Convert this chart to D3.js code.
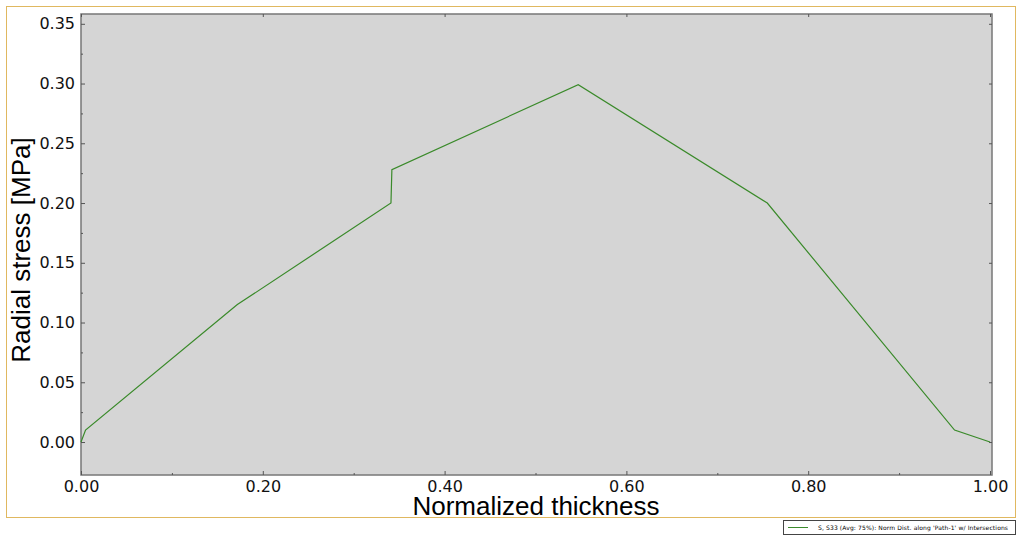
<!DOCTYPE html><html><head><meta charset="utf-8"><script src="https://cdn.jsdelivr.net/npm/d3@7"></script>
<style>body{margin:0;background:#fff}</style></head><body><svg id="c" width="1023" height="540"></svg><script>
const xVals=[0,0.005,0.172,0.341,0.342,0.547,0.755,0.961,1.0];
const yVals=[0,0.010,0.115,0.200,0.228,0.299,0.200,0.010,0.000];
const xTicks=[0,0.2,0.4,0.6,0.8,1.0];
const yTicks=[0,0.05,0.10,0.15,0.20,0.25,0.30,0.35];
const legendLabel="S, S33 (Avg: 75%): Norm Dist. along 'Path-1' w/ Intersections";
const svg=d3.select("#c");
const L=81,R=992,T=14,B=475;
const x=d3.scaleLinear().domain([0,1.0022]).range([L,R]);
const y=d3.scaleLinear().domain([-0.0276,0.3582]).range([B,T]);
svg.append("rect").attr("x",6.5).attr("y",6.5).attr("width",1009).attr("height",511).attr("fill","none").attr("stroke","#e0b860");
svg.append("rect").attr("x",L).attr("y",T).attr("width",R-L).attr("height",B-T).attr("fill","#d5d5d5").attr("stroke","#777").attr("stroke-width",1.5);
const f=d3.format(".2f");
svg.append("g").attr("transform",`translate(0,${B})`).call(d3.axisBottom(x).tickValues(xTicks).tickFormat(f).tickSize(-4).tickPadding(6));
svg.append("g").attr("transform",`translate(${L},0)`).call(d3.axisLeft(y).tickValues(yTicks).tickFormat(f).tickSize(-4).tickPadding(6));
const xm=d3.range(0.1,1.0,0.2), ym=d3.range(0.025,0.36,0.05);
svg.append("g").attr("transform",`translate(0,${B})`).call(d3.axisBottom(x).tickValues(xm).tickFormat("").tickSize(-2));
svg.append("g").attr("transform",`translate(${L},0)`).call(d3.axisLeft(y).tickValues(ym).tickFormat("").tickSize(-2));
svg.append("g").attr("transform",`translate(0,${T})`).call(d3.axisTop(x).tickValues(xTicks).tickFormat("").tickSize(-3));
svg.append("g").attr("transform",`translate(${R},0)`).call(d3.axisRight(y).tickValues(yTicks).tickFormat("").tickSize(-3));
svg.selectAll(".domain").remove();
svg.selectAll(".tick line").attr("stroke","#555");
svg.selectAll(".tick text").attr("font-family","Verdana, DejaVu Sans, sans-serif").attr("font-size",16).attr("fill","#111");
const pts=xVals.map((v,i)=>[v,yVals[i]]);
svg.append("path").attr("d",d3.line().x(d=>x(d[0])).y(d=>y(d[1]))(pts)).attr("fill","none").attr("stroke","#3a8a2a").attr("stroke-width",1.2);
svg.append("text").attr("x",536).attr("y",515).attr("text-anchor","middle").attr("font-family","Liberation Sans, Arial").attr("font-size",26).text("Normalized thickness");
svg.append("text").attr("transform",`translate(30,250) rotate(-90)`).attr("text-anchor","middle").attr("font-family","Liberation Sans, Arial").attr("font-size",26).text("Radial stress [MPa]");
svg.append("rect").attr("x",783.5).attr("y",520.5).attr("width",232).attr("height",14).attr("fill","#fff").attr("stroke","#444");
svg.append("line").attr("x1",788).attr("x2",808).attr("y1",527.5).attr("y2",527.5).attr("stroke","#3a8a2a");
svg.append("text").attr("x",818).attr("y",530).attr("font-family","DejaVu Sans").attr("font-size",6).attr("textLength",190).text(legendLabel);
</script></body></html>
